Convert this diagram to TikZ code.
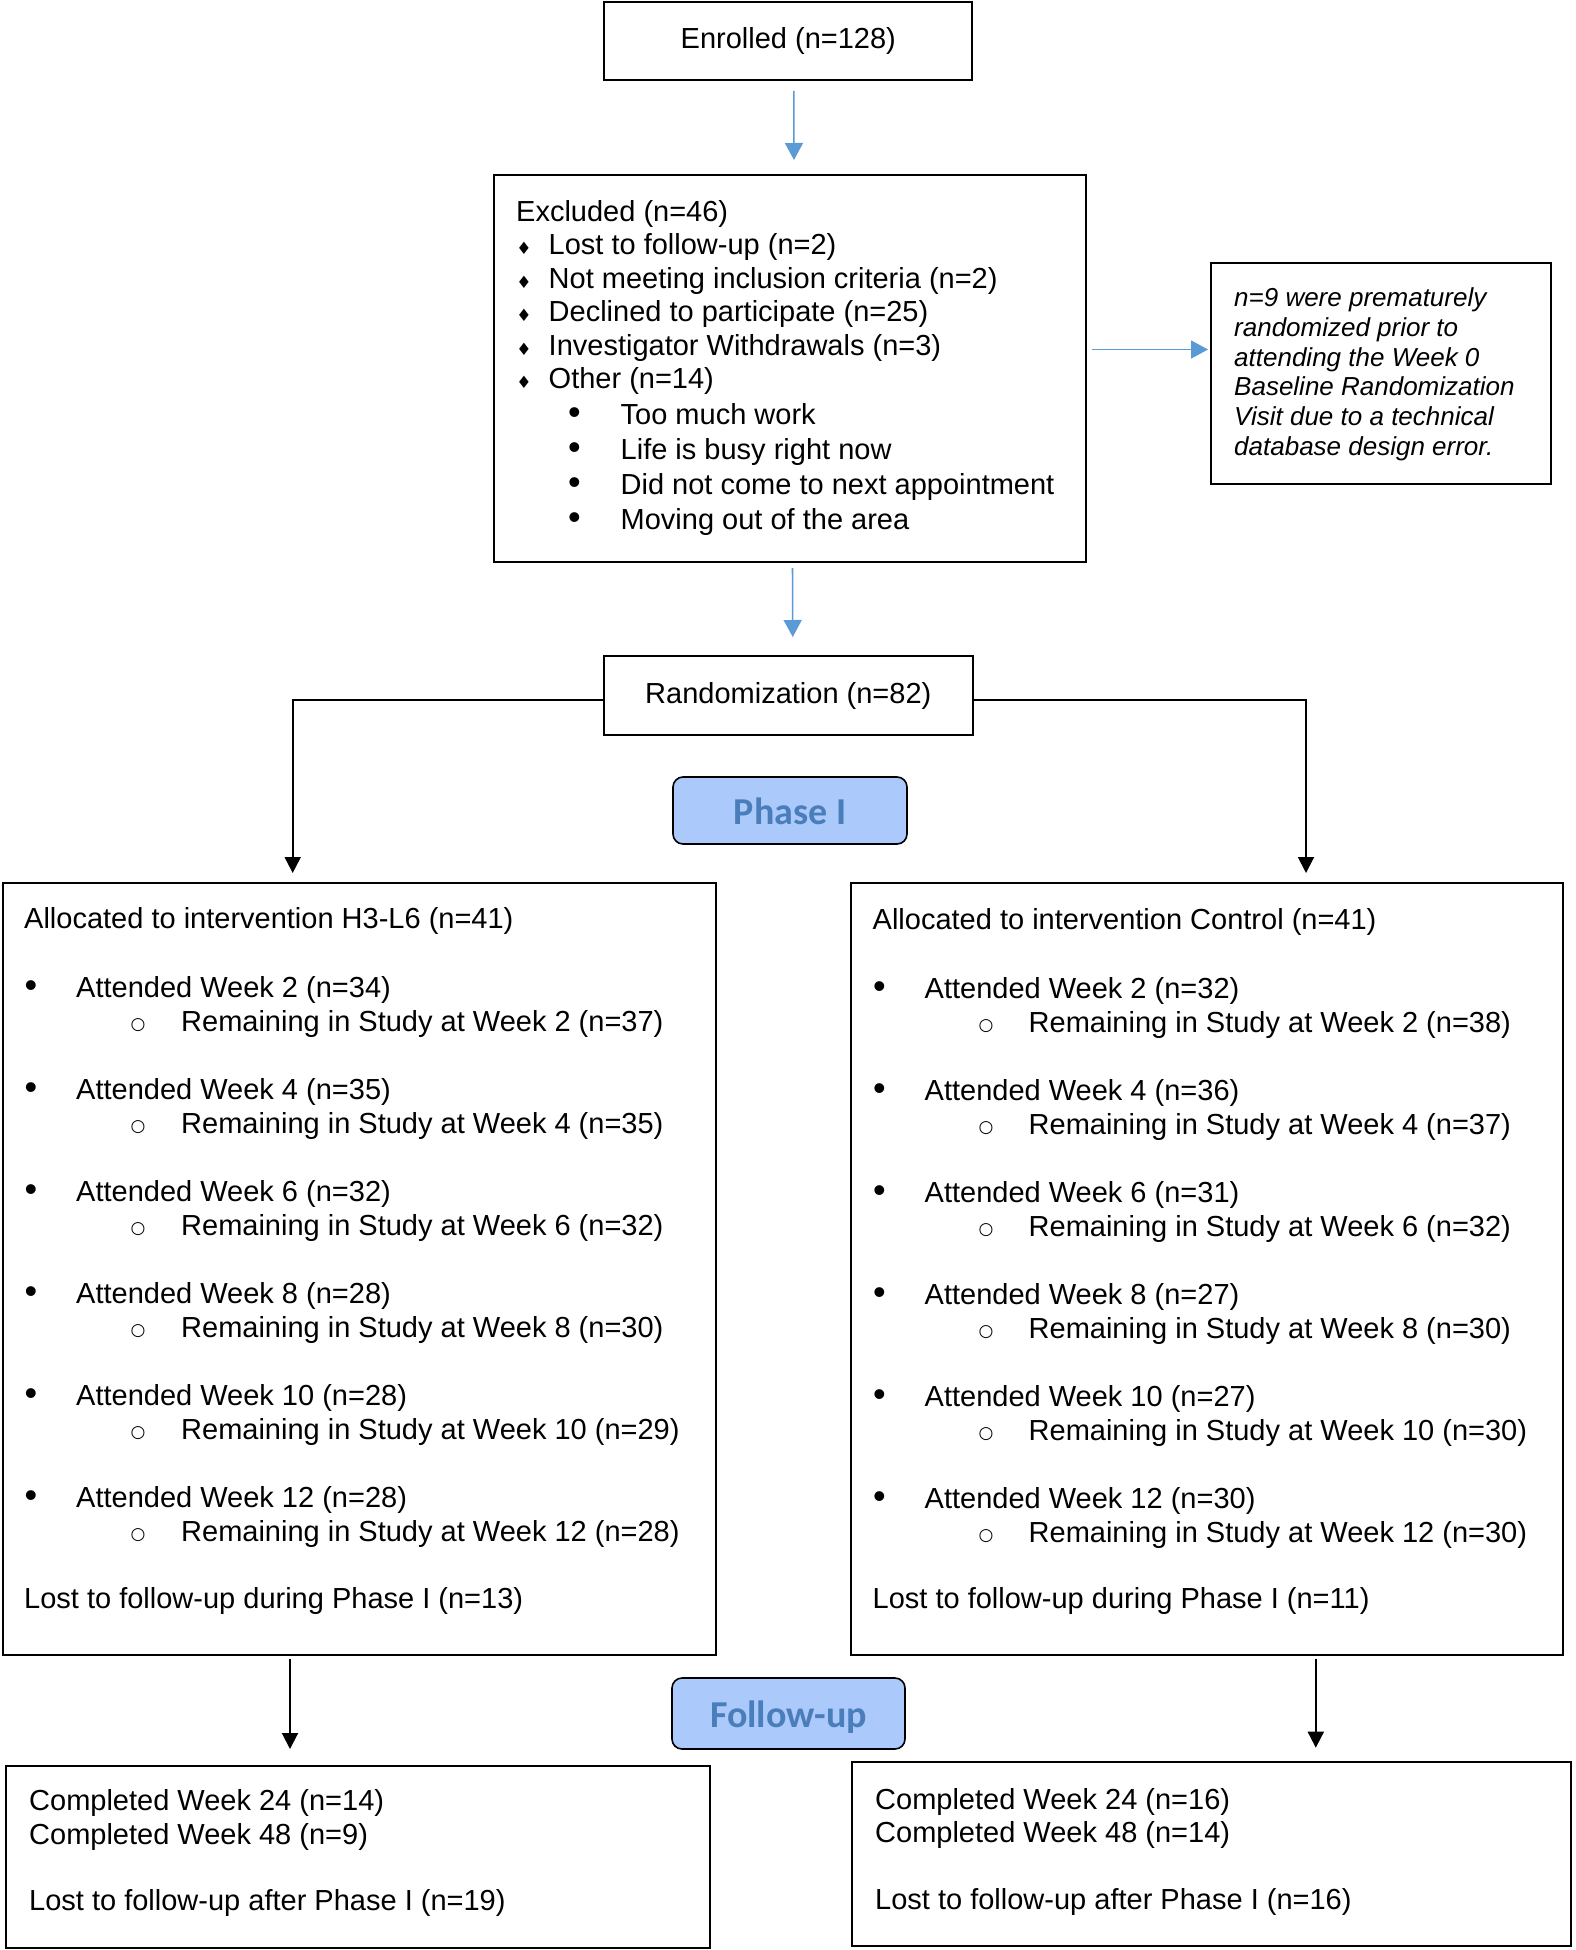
\documentclass[tikz,border=0pt]{standalone}
\usepackage{fontspec}
\setmainfont{Liberation Sans}
\newfontfamily\phasefont{Carlito}
\newfontfamily\dejafont{DejaVu Sans}
\usetikzlibrary{arrows.meta}
\definecolor{arrowblue}{RGB}{91,155,213}
\definecolor{phasefill}{RGB}{171,201,250}
\definecolor{phasetext}{RGB}{74,126,187}
\begin{document}
\begin{tikzpicture}[x=1pt,y=-1pt,
  box/.style={draw, line width=2pt, inner sep=0pt, outer sep=0pt},
  mainfont/.style={font=\fontsize{29}{34}\selectfont},
  txt/.style={anchor=base west, inner sep=0pt, mainfont},
  notetxt/.style={anchor=base west, inner sep=0pt, font=\fontsize{26}{30}\selectfont\itshape},
  dia/.style={anchor=base, inner sep=0pt, font=\dejafont\fontsize{17}{17}\selectfont},
  bul/.style={anchor=base, inner sep=0pt, font=\fontsize{36}{36}\selectfont},
  circ/.style={anchor=base, inner sep=0pt, font=\dejafont\fontsize{17}{17}\selectfont},
  phase/.style={draw, line width=1.6pt, rounded corners=10pt, fill=phasefill,
    text=phasetext, font=\phasefont\bfseries\fontsize{38}{38}\selectfont,
    inner sep=0pt, outer sep=0pt, text height=27pt, text depth=0pt},
  barrow/.style={draw=arrowblue, line width=1.6pt, -{Triangle[length=17pt,width=18pt]}},
  karrow/.style={draw=black, line width=2pt, -{Triangle[length=16pt,width=16pt]}}]
\useasboundingbox[fill=white] (0,0) rectangle (1575,1950);

% --- top boxes
\node[box, mainfont, minimum width=368pt, minimum height=78pt] (enr) at (788.3,41) {Enrolled (n=128)};
\node[box, anchor=north west, minimum width=592pt, minimum height=387pt] (exc) at (494,175) {};
\node[box, anchor=north west, minimum width=340pt, minimum height=221pt] (note) at (1211,263) {};
\node[box, mainfont, minimum width=369pt, minimum height=79pt] (rand) at (788.3,695.5) {Randomization (n=82)};

% excluded text
\node[txt] (ex0) at (516,221.7) {Excluded (n=46)};
\foreach \y/\t [count=\i] in {255/Lost to follow-up (n=2), 288.3/Not meeting inclusion criteria (n=2),
    321.7/Declined to participate (n=25), 355/Investigator Withdrawals (n=3), 388.3/Other (n=14)} {
  \node[dia] (exd\i) at (524,\y) {♦};
  \node[txt] (ext\i) at (548.5,\y) {\t};
}
\foreach \y/\t [count=\i] in {424/Too much work, 459/Life is busy right now,
    494/Did not come to next appointment, 529/Moving out of the area} {
  \node[bul] (exb\i) at (574.5,\y) {•};
  \node[txt] (exs\i) at (620.5,\y) {\t};
}

% note text
\foreach \y/\t [count=\i] in {307/n=9 were prematurely, 336.6/randomized prior to,
    366.2/attending the Week 0, 395.8/Baseline Randomization,
    425.4/Visit due to a technical, 455/database design error.} {
  \node[notetxt] (nt\i) at (1234,\y) {\t};
}

% phase labels
\node[phase, minimum width=234pt, minimum height=67pt] (ph1) at (790,810.5) {Phase I};
\node[phase, minimum width=233pt, minimum height=71pt] (ph2) at (788.5,1713.5) {Follow-up};

% --- big boxes
\node[box, anchor=north west, minimum width=713.5pt, minimum height=771.5pt] (lbox) at (2.5,883) {};
\node[box, anchor=north west, minimum width=712.5pt, minimum height=771.5pt] (rbox) at (850.5,883) {};

\node[txt] (lhead) at (24,928.5) {Allocated to intervention H3-L6 (n=41)};
\node[txt] (rhead) at (872.5,929.5) {Allocated to intervention Control (n=41)};

\foreach \i/\a/\r in {0/34/37, 1/35/35, 2/32/32, 3/28/30, 4/28/29, 5/28/28} {
  \pgfmathtruncatemacro{\wk}{2*(\i+1)}
  \pgfmathsetmacro{\ya}{997.8+102*\i}
  \pgfmathsetmacro{\yr}{1031.6+102*\i}
  \pgfmathsetmacro{\yc}{1029+102*\i}
  \node[bul] (lb\i) at (31,\ya) {•};
  \node[txt] (la\i) at (76,\ya) {Attended Week \wk\ (n=\a)};
  \node[circ] (lc\i) at (138,\yc) {○};
  \node[txt] (lr\i) at (181,\yr) {Remaining in Study at Week \wk\ (n=\r)};
}
\foreach \i/\a/\r in {0/32/38, 1/36/37, 2/31/32, 3/27/30, 4/27/30, 5/30/30} {
  \pgfmathtruncatemacro{\wk}{2*(\i+1)}
  \pgfmathsetmacro{\ya}{998.8+102*\i}
  \pgfmathsetmacro{\yr}{1032.6+102*\i}
  \pgfmathsetmacro{\yc}{1030+102*\i}
  \node[bul] (rb\i) at (879.5,\ya) {•};
  \node[txt] (ra\i) at (924.5,\ya) {Attended Week \wk\ (n=\a)};
  \node[circ] (rc\i) at (986,\yc) {○};
  \node[txt] (rr\i) at (1028.5,\yr) {Remaining in Study at Week \wk\ (n=\r)};
}
\node[txt] (llost) at (24,1608) {Lost to follow-up during Phase I (n=13)};
\node[txt] (rlost) at (872.5,1608) {Lost to follow-up during Phase I (n=11)};

% --- bottom boxes
\node[box, anchor=north west, minimum width=704pt, minimum height=182pt] (blbox) at (6,1765.7) {};
\node[box, anchor=north west, minimum width=719pt, minimum height=184pt] (brbox) at (852,1762) {};
\node[txt] (bl1) at (29,1810.7) {Completed Week 24 (n=14)};
\node[txt] (bl2) at (29,1844) {Completed Week 48 (n=9)};
\node[txt] (bl3) at (29,1910.7) {Lost to follow-up after Phase I (n=19)};
\node[txt] (br1) at (875,1809) {Completed Week 24 (n=16)};
\node[txt] (br2) at (875,1842.7) {Completed Week 48 (n=14)};
\node[txt] (br3) at (875,1909.3) {Lost to follow-up after Phase I (n=16)};

% --- connectors
\draw[barrow, shorten <=11pt, shorten >=15pt] ([xshift=5.5pt]enr.south) -- ([xshift=4pt]exc.north);
\draw[barrow, shorten <=6pt, shorten >=3pt] ([yshift=19pt]exc.east) -- ([yshift=19pt]exc.east -| note.west);
\draw[barrow, shorten <=6pt, shorten >=19pt] ([xshift=2.5pt]exc.south) -- ([xshift=4.5pt]rand.north);

\coordinate (aL) at (292.7,873);
\coordinate (aR) at (1306,873);
\draw[karrow] ([yshift=-4.5pt]rand.west) -| (aL);
\draw[karrow] ([yshift=-4.5pt]rand.east) -| (aR);

\coordinate (fL) at (290,1749);
\coordinate (fR) at (1315.8,1747.7);
\draw[karrow, shorten <=4pt] (lbox.south -| fL) -- (fL);
\draw[karrow, shorten <=4pt] (rbox.south -| fR) -- (fR);
\end{tikzpicture}
\end{document}
